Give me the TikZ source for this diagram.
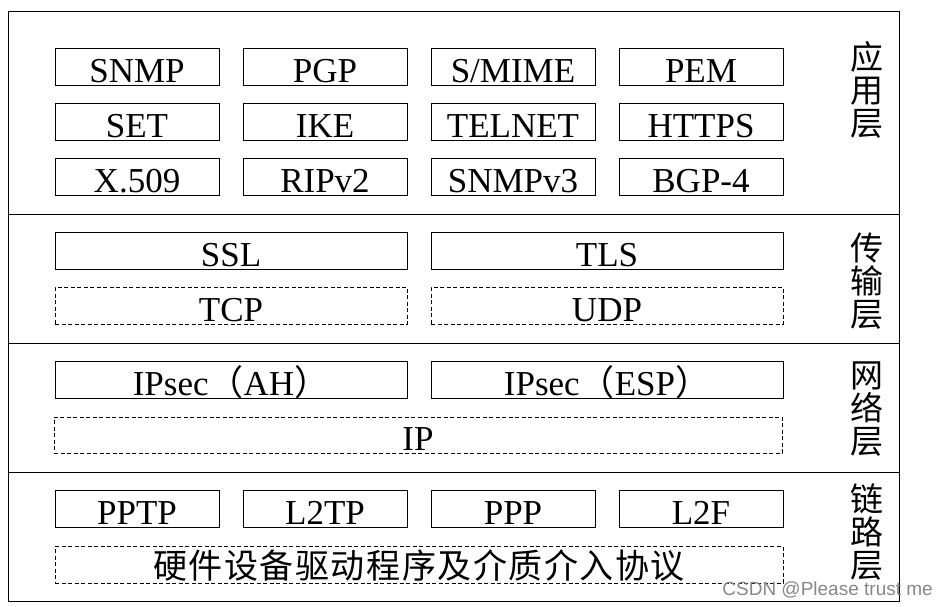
\documentclass[tikz,border=0pt]{standalone}
\usepackage{fontspec}
\setmainfont{Liberation Serif}
\newfontfamily\cjk{Noto Sans CJK SC}
\newfontfamily\cjkwide{Noto Sans CJK SC}[LetterSpace=4.5]
\newfontfamily\markfont{Liberation Sans}
\usepackage{tikz}
\usetikzlibrary{positioning}
\usepackage{xcolor}
\definecolor{markgray}{RGB}{135,135,135}

\tikzset{
    protobox/.style={draw,line width=1pt,inner sep=0pt,outer sep=0pt,minimum width=164pt,minimum height=37pt,
        text height=33.7pt,text depth=3.3pt,font=\fontsize{35}{35}\selectfont},
    widebox/.style={protobox,minimum width=352pt},
    fullbox/.style={protobox,minimum width=728pt},
    dashbox/.style={dash pattern=on 4pt off 2.5pt},
    layerlabel/.style={align=center,inner sep=0pt,font=\cjk\fontsize{33}{33}\selectfont}
}

\begin{document}
\begin{tikzpicture}[x=1pt,y=-1pt]
        \useasboundingbox (0,0) rectangle (940,606);

        % Layer frame
        \draw[line width=1pt] (8.5,11) rectangle (899,601);
        \draw[line width=1pt] (8.5,214) -- (899,214);
        \draw[line width=1pt] (8.5,343.3) -- (899,343.3);
        \draw[line width=1pt] (8.5,472.3) -- (899,472.3);

        % Application layer
        \node[protobox] (snmp) at (137,66.8) {SNMP};
        \node[protobox,right=24pt of snmp] (pgp) {PGP};
        \node[protobox,right=24pt of pgp] (smime) {S/MIME};
        \node[protobox,right=24pt of smime] (pem) {PEM};
        \node[protobox,below=18pt of snmp] (set) {SET};
        \node[protobox,right=24pt of set] (ike) {IKE};
        \node[protobox,right=24pt of ike] (telnet) {TELNET};
        \node[protobox,right=24pt of telnet] (https) {HTTPS};
        \node[protobox,below=18pt of set] (x509) {X.509};
        \node[protobox,right=24pt of x509] (rip) {RIPv2};
        \node[protobox,right=24pt of rip] (snmpv3) {SNMPv3};
        \node[protobox,right=24pt of snmpv3] (bgp) {BGP-4};
        \node[layerlabel] (applabel) at (867,90) {应\\用\\层};

        % Transport layer
        \node[widebox] (ssl) at (231,250.8) {SSL};
        \node[widebox,right=24pt of ssl] (tls) {TLS};
        \node[widebox,dashbox,below=18pt of ssl] (tcp) {TCP};
        \node[widebox,dashbox,below=18pt of tls] (udp) {UDP};
        \node[layerlabel] (translabel) at (867,281) {传\\输\\层};

        % Network layer
        \node[widebox] (ah) at (231,379.8) {IPsec{\cjk （}AH{\cjk ）}};
        \node[widebox,right=24pt of ah] (esp) {IPsec{\cjk （}ESP{\cjk ）}};
        \node[fullbox,dashbox,minimum height=36pt,text depth=2.7pt,text height=33.3pt] (ip) at (418,435.3) {IP};
        \node[layerlabel] (netlabel) at (867,409) {网\\络\\层};

        % Link layer
        \node[protobox] (pptp) at (137,508.8) {PPTP};
        \node[protobox,right=24pt of pptp] (l2tp) {L2TP};
        \node[protobox,right=24pt of l2tp] (ppp) {PPP};
        \node[protobox,right=24pt of ppp] (l2f) {L2F};
        \node[fullbox,dashbox,minimum height=36.6pt,text height=32pt,text depth=4.6pt,
            font=\cjkwide\fontsize{34}{34}\selectfont] (driver) at (419,565) {硬件设备驱动程序及介质介入协议};
        \node[layerlabel] (linklabel) at (867,532) {链\\路\\层};

        % Watermark
        \node[anchor=base east,inner sep=0pt,text=markgray,font=\markfont\fontsize{19}{19}\selectfont] (mark) at (933,595) {CSDN @Please trust me};
    \end{tikzpicture}
\end{document}
